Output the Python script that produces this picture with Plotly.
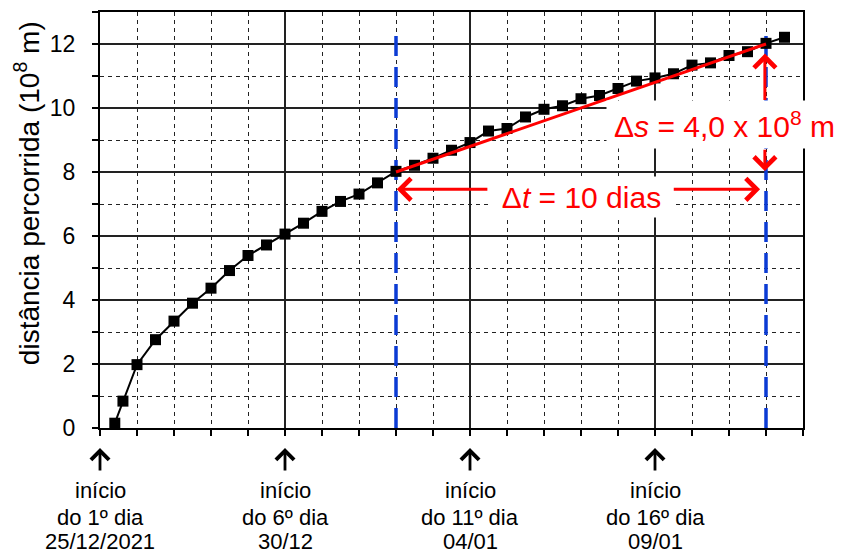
import plotly.graph_objects as go

# ---- data ----
t_days = [0.4, 0.62, 1.0, 1.5, 2.0, 2.5, 3.0, 3.5, 4.0, 4.5, 5.0, 5.5, 6.0, 6.5,
          7.0, 7.5, 8.0, 8.5, 9.0, 9.5, 10.0, 10.5, 11.0, 11.5, 12.0, 12.5, 13.0,
          13.5, 14.0, 14.5, 15.0, 15.5, 16.0, 16.5, 17.0, 17.5, 18.0, 18.5]
dist = [0.15, 0.84, 1.98, 2.76, 3.34, 3.90, 4.37, 4.92, 5.39, 5.72, 6.06, 6.40,
        6.77, 7.08, 7.31, 7.66, 8.02, 8.21, 8.43, 8.68, 8.92, 9.28, 9.36, 9.72,
        9.96, 10.07, 10.29, 10.39, 10.61, 10.84, 10.94, 11.07, 11.34, 11.41,
        11.64, 11.76, 12.02, 12.21]

fit_t = [8, 18]
fit_s = [8.0, 12.0]

marker_t = [8, 18]
marker_top = 12.3

day_label_pos = [0, 5, 10, 15]
day_label_lines = [
    ["início", "do 1º dia", "25/12/2021"],
    ["início", "do 6º dia", "30/12"],
    ["início", "do 11º dia", "04/01"],
    ["início", "do 16º dia", "09/01"],
]

y_tick_vals = [0, 2, 4, 6, 8, 10, 12]
y_title = "distância percorrida (10<sup>8</sup> m)"
dt_text = "Δ<i>t</i> = 10 dias"
ds_text = "Δ<i>s</i> = 4,0 x 10<sup>8</sup> m"

FONT = "Liberation Sans, Arial, sans-serif"
RED = "#FF0000"
BLUE = "#0B3BD4"

fig = go.Figure()

for t in marker_t:
    fig.add_trace(go.Scatter(
        x=[t, t], y=[0, marker_top], mode="lines",
        line=dict(color=BLUE, width=3.5, dash="20px,11px"),
        hoverinfo="skip", showlegend=False))

fig.add_trace(go.Scatter(
    x=t_days, y=dist, mode="lines+markers",
    line=dict(color="black", width=2),
    marker=dict(symbol="square", size=11, color="black"),
    showlegend=False))

fig.add_trace(go.Scatter(
    x=fit_t, y=fit_s, mode="lines",
    line=dict(color=RED, width=3), showlegend=False))

annotations = []

# red arrows
arrow_common = dict(xref="x", yref="y", axref="x", ayref="y", text="",
                    showarrow=True, arrowhead=4, arrowsize=1.4,
                    arrowwidth=3, arrowcolor=RED, standoff=0)
annotations.append(dict(x=8.02, y=7.46, ax=10.51, ay=7.46, **arrow_common))
annotations.append(dict(x=17.84, y=7.46, ax=15.46, ay=7.46, **arrow_common))
annotations.append(dict(x=17.97, y=11.7, ax=17.97, ay=10.2, **arrow_common))
annotations.append(dict(x=17.97, y=8.03, ax=17.97, ay=8.74, **arrow_common))

# labels with white boxes
annotations.append(dict(x=13.0, y=7.22, xref="x", yref="y", text=dt_text,
                        showarrow=False, bgcolor="white", width=183, height=40,
                        borderpad=0, font=dict(family=FONT, size=30, color=RED)))
annotations.append(dict(x=16.88, y=9.47, xref="x", yref="y", text=ds_text,
                        showarrow=False, bgcolor="white", width=235, height=47,
                        borderpad=0, font=dict(family=FONT, size=30, color=RED)))

# bottom arrows and labels
line_y = [-0.1483, -0.2129, -0.2727]
for pos, lines in zip(day_label_pos, day_label_lines):
    annotations.append(dict(x=pos, y=-0.048, xref="x", yref="paper", text="",
                            showarrow=True, ax=0, ay=24, arrowhead=4,
                            arrowsize=1.25, arrowwidth=2.8, arrowcolor="black",
                            standoff=0))
    for ly, txt in zip(line_y, lines):
        annotations.append(dict(x=pos, y=ly, xref="x", yref="paper", text=txt,
                                showarrow=False, xanchor="center",
                                yanchor="middle", height=22, borderpad=0,
                                font=dict(family=FONT, size=22, color="black")))

# y-axis title
annotations.append(dict(x=-0.1038, y=0.5646, xref="paper", yref="paper",
                        text=y_title, textangle=-90, showarrow=False,
                        xanchor="center", yanchor="middle",
                        font=dict(family=FONT, size=28, color="black")))

# page body has an 8px margin, so the figure is 8px smaller and margins shifted
fig.update_layout(
    width=834, height=546,
    margin=dict(l=92, r=39, t=2, b=126),
    paper_bgcolor="white", plot_bgcolor="white",
    font=dict(family=FONT, color="black"),
    annotations=annotations,
    xaxis=dict(
        range=[0, 19], tick0=0, dtick=5,
        showgrid=True, gridcolor="#222", gridwidth=1.5,
        showline=True, linecolor="black", linewidth=2, mirror=True,
        ticks="outside", ticklen=6, tickwidth=1.5, tickcolor="black",
        showticklabels=False, zeroline=False,
        minor=dict(dtick=1, showgrid=True, gridcolor="#222", gridwidth=1.2,
                   griddash="4px,4px", ticks="outside", ticklen=6,
                   tickwidth=1.5, tickcolor="black"),
    ),
    yaxis=dict(
        range=[0, 13], tickvals=y_tick_vals,
        showgrid=True, gridcolor="#222", gridwidth=1.5,
        showline=True, linecolor="black", linewidth=2, mirror=True,
        ticks="outside", ticklen=6, tickwidth=1.5, tickcolor="black",
        tickfont=dict(family=FONT, size=23, color="black"),
        ticklabelstandoff=12, zeroline=False,
        minor=dict(dtick=1, tick0=0, showgrid=True, gridcolor="#222",
                   gridwidth=1.2, griddash="4px,4px", ticks="outside",
                   ticklen=6, tickwidth=1.5, tickcolor="black"),
    ),
)

fig.write_html("out.html")
